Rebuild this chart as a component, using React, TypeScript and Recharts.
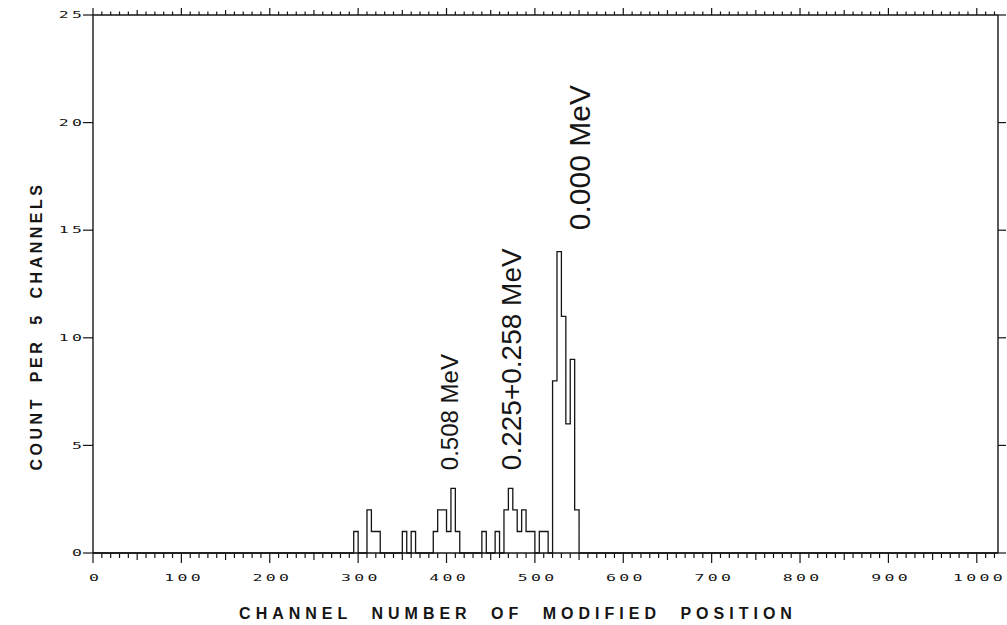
import React from "react";
import { ComposedChart, Line, XAxis, YAxis, ReferenceDot } from "recharts";

// histogram, 5-channel bins: start channel and count of each step
const binStart = [0, 295, 300, 310, 315, 325, 350, 355, 360, 365, 385, 390, 400, 405, 410, 415, 440, 445, 455, 460, 465, 470, 475, 480, 485, 490, 500, 505, 515, 520, 525, 530, 535, 540, 545, 550, 1024];
const counts = [0, 1, 0, 2, 1, 0, 1, 0, 1, 0, 1, 2, 1, 3, 1, 0, 1, 0, 1, 0, 2, 3, 2, 1, 2, 1, 0, 1, 0, 8, 14, 11, 6, 9, 2, 0, 0];

const xLabels = [0, 100, 200, 300, 400, 500, 600, 700, 800, 900, 1000];
const yLabels = [0, 5, 10, 15, 20, 25];

const peakLabels = ["0.508 MeV", "0.225+0.258 MeV", "0.000 MeV"];
const peakChannel = [403, 473, 551];
const peakCount = [3.85, 3.85, 15];
const peakFontSize = [24, 28, 30];

const data = binStart.map((ch, i) => ({ ch, count: counts[i] }));
const minorTicks = Array.from({ length: 103 }, (_, i) => i * 10);

const INK = "#151515";
const PLOT_FONT = "'DejaVu Sans Mono', monospace";
const TITLE_FONT = "'Liberation Sans', Arial, sans-serif";

function tickLen(v: number, big: number) {
  if (v % 100 === 0) return big;
  if (v % 50 === 0) return big * 0.7;
  return big * 0.5;
}

// wide, squat digits like the pen-plotter lettering
function PlotterText({ x, y, anchor, children }: any) {
  return (
    <text
      transform={`translate(${x},${y}) scale(1.65,0.95)`}
      textAnchor={anchor}
      dominantBaseline="central"
      fontFamily={PLOT_FONT}
      fontSize={10}
      letterSpacing={2}
      fill={INK}
      dx={anchor === "middle" ? 1 : 2}
    >
      {children}
    </text>
  );
}

const BottomTick = (props: any) => {
  const { x, y, payload } = props;
  const v = payload.value;
  return (
    <g>
      <line x1={x} x2={x} y1={y} y2={y + tickLen(v, 10)} stroke={INK} strokeWidth={1.2} />
      {xLabels.includes(v) && (
        <PlotterText x={x + 1} y={y + 25} anchor="middle">
          {v}
        </PlotterText>
      )}
    </g>
  );
};

const TopTick = (props: any) => {
  const { x, y, payload } = props;
  const v = payload.value;
  return <line x1={x} x2={x} y1={y} y2={y - tickLen(v, 7)} stroke={INK} strokeWidth={1.2} />;
};

const LeftTick = (props: any) => {
  const { x, y, payload } = props;
  return (
    <g>
      <line x1={x - 10} x2={x} y1={y} y2={y} stroke={INK} strokeWidth={1.2} />
      <PlotterText x={x - 11} y={y} anchor="end">
        {payload.value}
      </PlotterText>
    </g>
  );
};

const RightTick = (props: any) => {
  const { x, y } = props;
  return <line x1={x} x2={x + 8} y1={y} y2={y} stroke={INK} strokeWidth={1.2} />;
};

const PeakText = (text: string, size: number) => (props: any) => (
  <text
    transform={`translate(${props.cx},${props.cy}) rotate(-90)`}
    textAnchor="start"
    dominantBaseline="central"
    fontFamily={TITLE_FONT}
    fontSize={size}
    fill={INK}
  >
    {text}
  </text>
);

export default function App() {
  const axisLine = { stroke: INK, strokeWidth: 1.4 };
  return (
    <div style={{ position: "absolute", left: 0, top: 0, width: 1007, height: 625, background: "#fff" }}>
      <ComposedChart width={1007} height={625} data={data} margin={{ top: 14, right: 8, bottom: 12, left: 0 }}>
        <XAxis
          xAxisId="bottom"
          type="number"
          dataKey="ch"
          domain={[0, 1024]}
          ticks={minorTicks}
          interval={0}
          height={60}
          tickSize={0}
          tickMargin={0}
          tickLine={false}
          axisLine={axisLine}
          tick={<BottomTick />}
        />
        <XAxis
          xAxisId="top"
          orientation="top"
          type="number"
          dataKey="ch"
          domain={[0, 1024]}
          ticks={minorTicks}
          interval={0}
          height={1}
          tickSize={0}
          tickMargin={0}
          tickLine={false}
          axisLine={axisLine}
          tick={<TopTick />}
        />
        <YAxis
          yAxisId="left"
          type="number"
          domain={[0, 25]}
          ticks={yLabels}
          interval={0}
          width={93}
          tickSize={0}
          tickMargin={0}
          tickLine={false}
          axisLine={axisLine}
          tick={<LeftTick />}
        />
        <YAxis
          yAxisId="right"
          orientation="right"
          type="number"
          domain={[0, 25]}
          ticks={yLabels}
          interval={0}
          width={1}
          tickSize={0}
          tickMargin={0}
          tickLine={false}
          axisLine={axisLine}
          tick={<RightTick />}
        />
        <Line
          xAxisId="bottom"
          yAxisId="left"
          type="stepAfter"
          dataKey="count"
          stroke={INK}
          strokeWidth={1.3}
          dot={false}
          activeDot={false}
          isAnimationActive={false}
        />
        {/* invisible twin so the top / right frame axes are laid out */}
        <Line
          xAxisId="top"
          yAxisId="right"
          type="stepAfter"
          dataKey="count"
          stroke="none"
          dot={false}
          activeDot={false}
          isAnimationActive={false}
        />
        {peakLabels.map((t, i) => (
          <ReferenceDot
            key={t}
            xAxisId="bottom"
            yAxisId="left"
            x={peakChannel[i]}
            y={peakCount[i]}
            r={0}
            shape={PeakText(t, peakFontSize[i])}
          />
        ))}
        <text
          transform="translate(36,326) rotate(-90)"
          textAnchor="middle"
          dominantBaseline="central"
          fontFamily={TITLE_FONT}
          fontWeight="bold"
          fontSize={16}
          letterSpacing={3.5}
          wordSpacing={6}
          fill={INK}
        >
          COUNT PER 5 CHANNELS
        </text>
        <text
          x={518}
          y={613}
          textAnchor="middle"
          dominantBaseline="central"
          fontFamily={TITLE_FONT}
          fontWeight="bold"
          fontSize={16}
          letterSpacing={5}
          wordSpacing={10}
          fill={INK}
        >
          CHANNEL NUMBER OF MODIFIED POSITION
        </text>
      </ComposedChart>
    </div>
  );
}
